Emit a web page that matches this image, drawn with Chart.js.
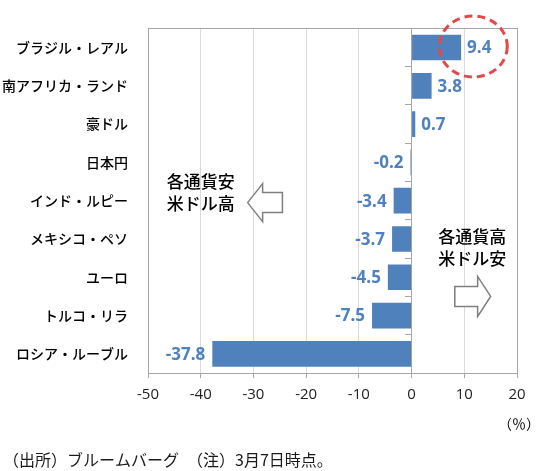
<!DOCTYPE html>
<html lang="ja">
<head>
<meta charset="utf-8">
<title>主要通貨の対米ドル騰落率</title>
<script src="https://cdn.jsdelivr.net/npm/chart.js@4.4.1/dist/chart.umd.min.js"></script>
<style>
  html, body { margin: 0; padding: 0; background: #fff; }
  #wrap { width: 540px; height: 471px; }
</style>
</head>
<body>
<div id="wrap"><canvas id="fxChart" width="540" height="471"></canvas></div>
<script>
const currencies = ['ブラジル・レアル', '南アフリカ・ランド', '豪ドル', '日本円', 'インド・ルピー', 'メキシコ・ペソ', 'ユーロ', 'トルコ・リラ', 'ロシア・ルーブル'];
const changes = [9.4, 3.8, 0.7, -0.2, -3.4, -3.7, -4.5, -7.5, -37.8];
const xTicks = [-50, -40, -30, -20, -10, 0, 10, 20];
const leftNote = ['各通貨安', '米ドル高'];
const rightNote = ['各通貨高', '米ドル安'];
const unitLabel = '（％）';
const sourceNote = '（出所）ブルームバーグ　（注）3月7日時点。';

const BAR_BLUE = '#4F81BD';
const AXIS_GREY = '#a6a6a6';
const JP_FONT = '"Noto Sans CJK JP", "Noto Sans", sans-serif';
const NUM_FONT = '"Open Sans", "Liberation Sans", sans-serif';

// outlined block arrow, tip at tipX, tail at tailX
function blockArrow(ctx, tipX, tailX, yc, half, shaftHalf, head) {
    const d = tailX > tipX ? 1 : -1;
    const hx = tipX + d * head;
    ctx.save();
    ctx.beginPath();
    ctx.moveTo(tipX, yc);
    ctx.lineTo(hx, yc - half);
    ctx.lineTo(hx, yc - shaftHalf);
    ctx.lineTo(tailX, yc - shaftHalf);
    ctx.lineTo(tailX, yc + shaftHalf);
    ctx.lineTo(hx, yc + shaftHalf);
    ctx.lineTo(hx, yc + half);
    ctx.closePath();
    ctx.fillStyle = '#fff';
    ctx.fill();
    ctx.strokeStyle = '#7f7f7f';
    ctx.lineWidth = 1.5;
    ctx.stroke();
    ctx.restore();
}

const chartDecor = {
    id: 'chartDecor',
    beforeDatasetsDraw(chart) {
        const { ctx, chartArea: a } = chart;
        ctx.save();
        ctx.strokeStyle = AXIS_GREY;
        ctx.lineWidth = 1;
        ctx.strokeRect(Math.round(a.left) + 0.5, Math.round(a.top) + 0.5, Math.round(a.width), Math.round(a.height));
        ctx.restore();
    },
    afterDatasetsDraw(chart) {
        const { ctx, chartArea: a, scales: { x, y } } = chart;
        const bars = chart.getDatasetMeta(0).data;
        ctx.save();

        // value labels next to the bar ends
        ctx.font = 'bold 17px ' + NUM_FONT;
        ctx.fillStyle = BAR_BLUE;
        ctx.textBaseline = 'middle';
        bars.forEach((bar, i) => {
            const neg = changes[i] < 0;
            ctx.textAlign = neg ? 'right' : 'left';
            ctx.fillText(changes[i].toFixed(1), bar.x + (neg ? -7 : 6), bar.y + 1);
        });

        // red dashed ring round the biggest gain
        const top = changes.indexOf(Math.max(...changes));
        const w = ctx.measureText(changes[top].toFixed(1)).width;
        ctx.beginPath();
        ctx.ellipse(bars[top].x + w / 2, bars[top].y - 1, 34, 30.5, 0, 0, Math.PI * 2);
        ctx.setLineDash([8, 5]);
        ctx.strokeStyle = '#e8474a';
        ctx.lineWidth = 3;
        ctx.stroke();
        ctx.setLineDash([]);

        // direction notes
        blockArrow(ctx, x.getPixelForValue(-31.1), x.getPixelForValue(-24.5), y.getPixelForValue(4.05), 19, 10, 15);
        blockArrow(ctx, x.getPixelForValue(15.0), x.getPixelForValue(8.2), y.getPixelForValue(6.5), 20, 10, 13);
        ctx.font = '500 17px ' + JP_FONT;
        ctx.fillStyle = '#000';
        ctx.textAlign = 'center';
        leftNote.forEach((t, i) => ctx.fillText(t, x.getPixelForValue(-40), y.getPixelForValue(3.8) + (i - 0.5) * 22));
        rightNote.forEach((t, i) => ctx.fillText(t, x.getPixelForValue(11.5), y.getPixelForValue(5.23) + (i - 0.5) * 22));

        // unit and source
        ctx.font = '14px ' + JP_FONT;
        ctx.fillText(unitLabel, a.right + 2, a.bottom + 51);
        ctx.font = '16px ' + JP_FONT;
        ctx.textAlign = 'left';
        ctx.fillStyle = '#1a1a1a';
        ctx.fillText(sourceNote, 3, chart.height - 11);
        ctx.restore();
    }
};

const ctx = document.getElementById('fxChart').getContext('2d');
new Chart(ctx, {
    type: 'bar',
    data: {
        labels: currencies,
        datasets: [{
            data: changes,
            backgroundColor: BAR_BLUE,
            borderWidth: 0,
            barPercentage: 0.67,
            categoryPercentage: 1.0
        }]
    },
    options: {
        indexAxis: 'y',
        responsive: false,
        animation: false,
        layout: { padding: { top: 25, right: 23, left: 0, bottom: 0 } },
        plugins: {
            legend: { display: false },
            tooltip: { enabled: false }
        },
        scales: {
            x: {
                min: xTicks[0],
                max: xTicks[xTicks.length - 1],
                ticks: {
                    stepSize: xTicks[1] - xTicks[0],
                    font: { family: NUM_FONT, size: 15 },
                    color: '#222',
                    padding: 8
                },
                grid: {
                    color: c => (c.tick && c.tick.value === 0) ? 'rgba(0,0,0,0)' : '#d9d9d9',
                    tickColor: AXIS_GREY,
                    tickLength: 5
                },
                border: { display: true, color: AXIS_GREY },
                afterFit: s => { s.height = 98; }
            },
            y: {
                grid: { display: false, drawTicks: false },
                border: { display: false },
                ticks: {
                    font: { family: JP_FONT, size: 14, weight: 500 },
                    color: '#000',
                    padding: 20
                },
                afterFit: s => { s.width = 148; }
            },
            // category axis drawn on the zero line, ticks only
            yZero: {
                axis: 'y',
                type: 'category',
                position: { x: 0 },
                offset: true,
                grid: {
                    display: true,
                    drawOnChartArea: false,
                    drawTicks: true,
                    tickLength: 6,
                    offset: true,
                    color: AXIS_GREY
                },
                border: { display: true, color: AXIS_GREY },
                ticks: { display: false }
            }
        }
    },
    plugins: [chartDecor]
});
</script>
</body>
</html>
